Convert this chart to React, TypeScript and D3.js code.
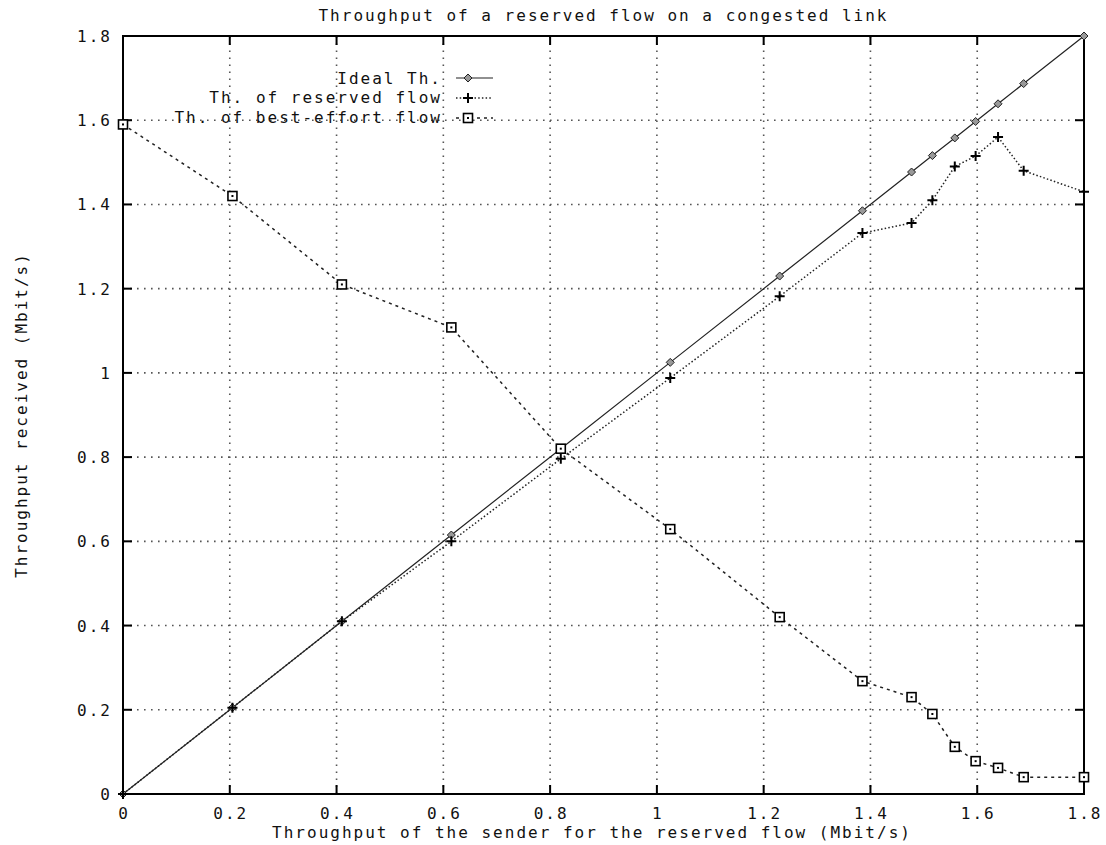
import React from 'react'
import * as d3 from 'd3'

// sender throughput (Mbit/s), shared by all three series
const sent = [0, 0.205, 0.41, 0.615, 0.82, 1.025, 1.23, 1.385, 1.477, 1.516, 1.558, 1.597, 1.639, 1.687, 1.8]
const ideal = [0, 0.205, 0.41, 0.615, 0.82, 1.025, 1.23, 1.385, 1.477, 1.516, 1.558, 1.597, 1.639, 1.687, 1.8]
const reserved = [0, 0.205, 0.41, 0.6, 0.796, 0.988, 1.182, 1.332, 1.356, 1.41, 1.49, 1.515, 1.56, 1.48, 1.43]
const bestEffort = [1.59, 1.42, 1.21, 1.108, 0.82, 0.629, 0.42, 0.268, 0.23, 0.19, 0.112, 0.078, 0.062, 0.04, 0.04]

const xTicks = [0, 0.2, 0.4, 0.6, 0.8, 1, 1.2, 1.4, 1.6, 1.8]
const yTicks = [0, 0.2, 0.4, 0.6, 0.8, 1, 1.2, 1.4, 1.6, 1.8]

const legendLabels = ['Ideal Th.', 'Th. of reserved flow', 'Th. of best-effort flow']

const W = 1106
const H = 845
const left = 123
const right = 1084
const top = 36
const bottom = 794

const font = {
  fontFamily: '"DejaVu Sans Mono", monospace',
  fontSize: 16,
  letterSpacing: 2,
  fill: '#111'
}

const fmt = (v: number) => (v === 0 || v === 1 ? String(v) : v.toFixed(1))

const Diamond = ({ x, y }: { x: number; y: number }) => (
  <path d={`M${x},${y - 4}L${x + 4},${y}L${x},${y + 4}L${x - 4},${y}Z`} fill="#999" stroke="#222" strokeWidth={1} />
)

const Plus = ({ x, y }: { x: number; y: number }) => (
  <path d={`M${x - 5},${y}H${x + 5}M${x},${y - 5}V${y + 5}`} stroke="#000" strokeWidth={2} />
)

const Square = ({ x, y }: { x: number; y: number }) => (
  <g>
    <rect x={x - 4.5} y={y - 4.5} width={9} height={9} fill="#fff" stroke="#000" strokeWidth={1.6} />
    <rect x={x - 1} y={y - 1} width={2} height={2} fill="#000" />
  </g>
)

export default function App() {
  const x = d3.scaleLinear().domain([0, 1.8]).range([left, right])
  const y = d3.scaleLinear().domain([0, 1.8]).range([bottom, top])

  const line = d3.line<number>()
    .x((_, i) => x(sent[i]))
    .y(d => y(d))

  const legendX = 442
  const legendRows = [84, 103, 123]

  return (
    <svg width={W} height={H} style={{ position: 'absolute', left: 0, top: 0, background: '#fff' }}>
      <rect width={W} height={H} fill="#fff" />

      {/* grid */}
      <g stroke="#555" strokeWidth={1.6} strokeDasharray="1.6 5.4">
        {xTicks.slice(1, -1).map(t => (
          <line key={'gx' + t} x1={x(t)} x2={x(t)} y1={bottom} y2={top} />
        ))}
        {yTicks.slice(1, -1).map(t => (
          <line key={'gy' + t} x1={left} x2={right} y1={y(t)} y2={y(t)} />
        ))}
      </g>

      {/* frame and ticks */}
      <rect x={left} y={top} width={right - left} height={bottom - top} fill="none" stroke="#000" strokeWidth={2} />
      <g stroke="#000" strokeWidth={2}>
        {xTicks.map(t => (
          <g key={'tx' + t}>
            <line x1={x(t)} x2={x(t)} y1={bottom} y2={bottom - 9} />
            <line x1={x(t)} x2={x(t)} y1={top} y2={top + 9} />
          </g>
        ))}
        {yTicks.map(t => (
          <g key={'ty' + t}>
            <line x1={left} x2={left + 9} y1={y(t)} y2={y(t)} />
            <line x1={right} x2={right - 9} y1={y(t)} y2={y(t)} />
          </g>
        ))}
      </g>

      {/* tick labels */}
      {xTicks.map(t => (
        <text key={'lx' + t} x={x(t) + 1} y={819} textAnchor="middle" style={font}>{fmt(t)}</text>
      ))}
      {yTicks.map(t => (
        <text key={'ly' + t} x={112} y={y(t) + 6} textAnchor="end" style={font}>{fmt(t)}</text>
      ))}

      {/* titles */}
      <text x={(left + right) / 2} y={21} textAnchor="middle" style={font}>
        Throughput of a reserved flow on a congested link
      </text>
      <text x={592} y={838} textAnchor="middle" style={font}>
        Throughput of the sender for the reserved flow (Mbit/s)
      </text>
      <text transform={`translate(27,${(top + bottom) / 2}) rotate(-90)`} textAnchor="middle" style={font}>
        Throughput received (Mbit/s)
      </text>

      {/* series */}
      <path d={line(ideal) || ''} fill="none" stroke="#222" strokeWidth={1.2} />
      <path d={line(reserved) || ''} fill="none" stroke="#222" strokeWidth={1.5} strokeDasharray="1.5 2.2" />
      <path d={line(bestEffort) || ''} fill="none" stroke="#222" strokeWidth={1.5} strokeDasharray="3 4" />

      {ideal.map((v, i) => <Diamond key={'d' + i} x={x(sent[i])} y={y(v)} />)}
      {reserved.map((v, i) => <Plus key={'p' + i} x={x(sent[i])} y={y(v)} />)}
      {bestEffort.map((v, i) => <Square key={'s' + i} x={x(sent[i])} y={y(v)} />)}

      {/* legend */}
      {legendLabels.map((lab, i) => (
        <text key={lab} x={legendX} y={legendRows[i]} textAnchor="end" style={font}>{lab}</text>
      ))}
      <line x1={456} x2={493} y1={78} y2={78} stroke="#222" strokeWidth={1.2} />
      <Diamond x={468} y={78} />
      <line x1={456} x2={493} y1={98} y2={98} stroke="#222" strokeWidth={1.5} strokeDasharray="1.5 2.2" />
      <Plus x={468} y={98} />
      <line x1={456} x2={493} y1={118} y2={118} stroke="#222" strokeWidth={1.5} strokeDasharray="3 4" />
      <Square x={468} y={118} />
    </svg>
  )
}
